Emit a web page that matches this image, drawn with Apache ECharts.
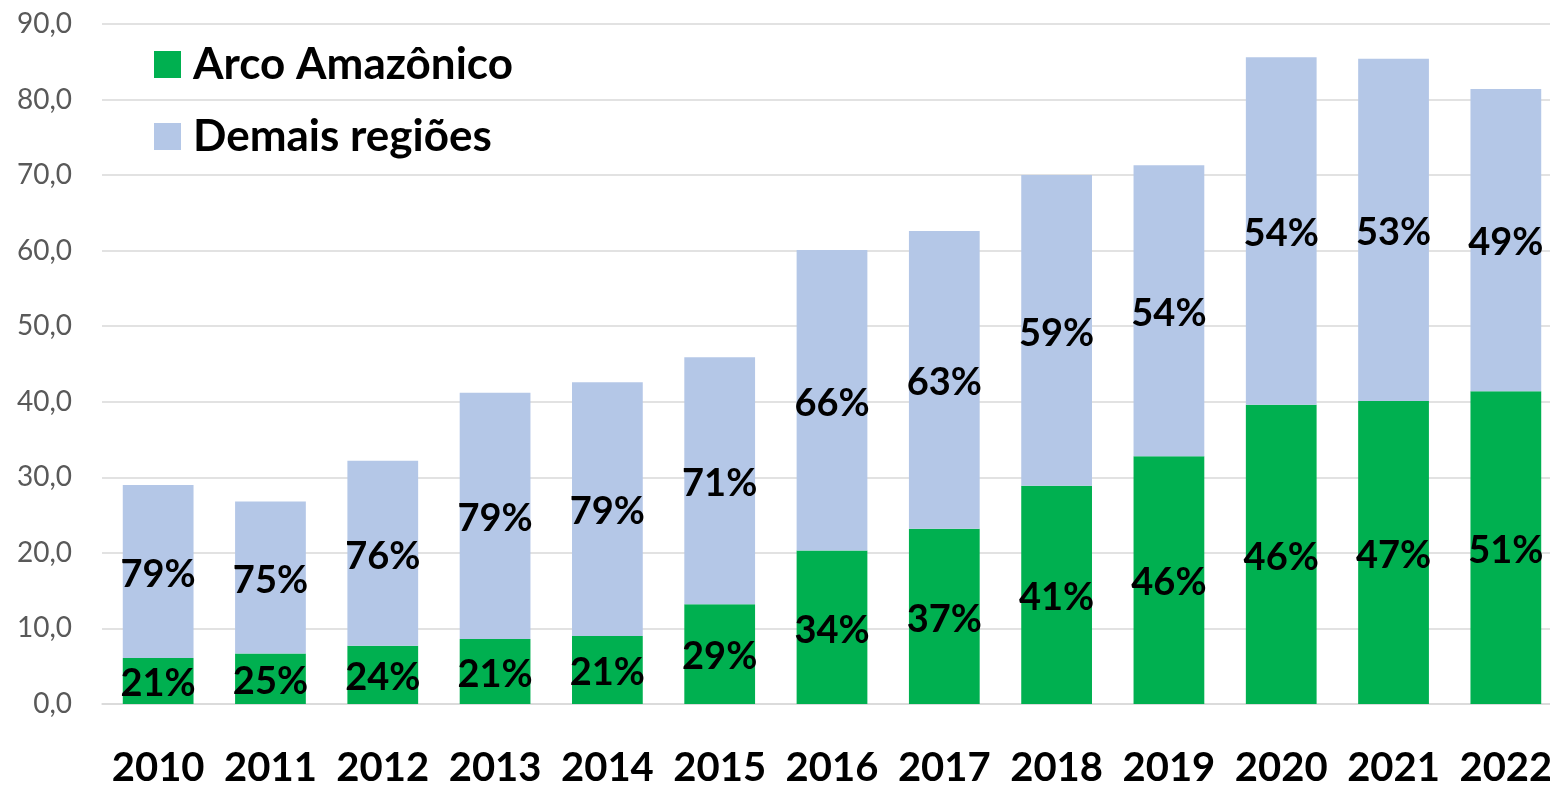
<!DOCTYPE html>
<html>
<head>
<meta charset="utf-8">
<script src="https://cdn.jsdelivr.net/npm/echarts@6/dist/echarts.min.js"></script>
<style>
  html, body { margin: 0; padding: 0; background: #ffffff; }
  #chart { width: 1550px; height: 786px; }
</style>
</head>
<body>
<div id="chart"></div>
<script>
// Years on the category axis
const years = ['2010', '2011', '2012', '2013', '2014', '2015', '2016', '2017', '2018', '2019', '2020', '2021', '2022'];
// Arco Amazônico (lower, green segment)
const arcoAmazonico = [6.1, 6.7, 7.7, 8.6, 9.0, 13.2, 20.3, 23.2, 28.9, 32.8, 39.6, 40.1, 41.4];
// Demais regiões (upper, blue segment)
const demaisRegioes = [22.9, 20.1, 24.5, 32.6, 33.6, 32.7, 39.8, 39.4, 41.1, 38.5, 46.0, 45.3, 40.0];
// Value axis ticks
const yTicks = [0, 10, 20, 30, 40, 50, 60, 70, 80, 90];

const FONT = 'Lato, "Open Sans", sans-serif';

// Share of each segment in the year's total, shown inside the bars
function share(series, i) {
  const total = arcoAmazonico[i] + demaisRegioes[i];
  return Math.round(series[i] / total * 100) + '%';
}

const chart = echarts.init(document.getElementById('chart'), null, { renderer: 'canvas' });

const labelStyle = {
  show: true,
  position: 'inside',
  offset: [0, 3],
  color: '#000000',
  fontFamily: FONT,
  fontWeight: 'bold',
  fontSize: 38
};

chart.setOption({
  animation: false,
  backgroundColor: '#ffffff',
  grid: { left: 102, top: 24, width: 1460, height: 680, containLabel: false, outerBoundsMode: 'none' },
  legend: {
    orient: 'vertical',
    left: 149,
    top: 37,
    icon: 'rect',
    itemWidth: 27,
    itemHeight: 27,
    itemGap: 27,
    textStyle: {
      color: '#000000',
      fontFamily: FONT,
      fontWeight: 'bold',
      fontSize: 44,
      lineHeight: 45,
      padding: [0, 0, 0, 7]
    },
    data: ['Arco Amazônico', 'Demais regiões']
  },
  xAxis: {
    type: 'category',
    data: years,
    axisLine: { show: true, lineStyle: { color: '#d9d9d9', width: 1.5 } },
    axisTick: { show: false },
    axisLabel: {
      interval: 0,
      color: '#000000',
      fontFamily: FONT,
      fontWeight: 'bold',
      fontSize: 40,
      margin: 44
    }
  },
  yAxis: {
    type: 'value',
    min: yTicks[0],
    max: yTicks[yTicks.length - 1],
    interval: yTicks[1] - yTicks[0],
    axisLine: { show: false },
    axisTick: { show: false },
    splitLine: { show: true, lineStyle: { color: '#d9d9d9', width: 1.5 } },
    axisLabel: {
      color: '#595959',
      fontFamily: FONT,
      fontSize: 28,
      margin: 30,
      formatter: v => v.toFixed(1).replace('.', ',')
    }
  },
  series: [
    {
      name: 'Arco Amazônico',
      type: 'bar',
      stack: 'total',
      barWidth: '63%',
      itemStyle: { color: '#00b050' },
      label: Object.assign({}, labelStyle, { formatter: p => share(arcoAmazonico, p.dataIndex) }),
      data: arcoAmazonico
    },
    {
      name: 'Demais regiões',
      type: 'bar',
      stack: 'total',
      barWidth: '63%',
      itemStyle: { color: '#b4c7e7' },
      label: Object.assign({}, labelStyle, { formatter: p => share(demaisRegioes, p.dataIndex) }),
      data: demaisRegioes
    }
  ]
});
</script>
</body>
</html>
